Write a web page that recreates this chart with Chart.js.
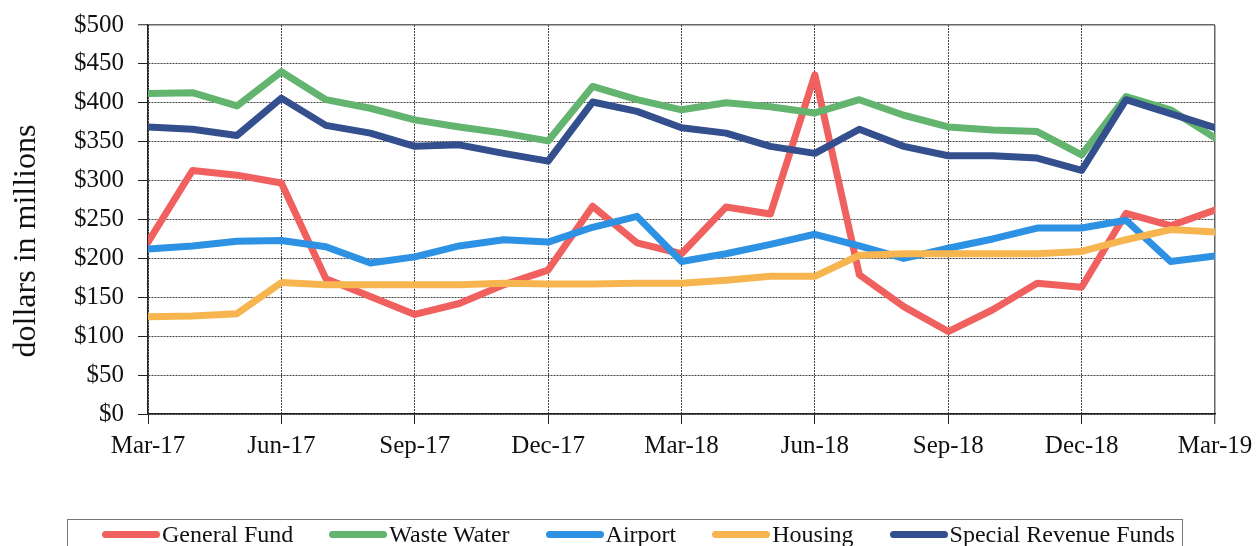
<!DOCTYPE html>
<html>
<head>
<meta charset="utf-8">
<script src="https://cdn.jsdelivr.net/npm/chart.js@4.4.1/dist/chart.umd.min.js"></script>
<style>
  html, body { margin: 0; padding: 0; background: #fff; overflow: hidden; }
  #wrap { position: relative; width: 1256px; height: 546px; }
  #legend {
    position: absolute; left: 67px; top: 519px; width: 1116px; height: 40px;
    border: 1px solid #777; box-sizing: border-box;
    font-family: "Liberation Serif", "DejaVu Serif", serif; font-size: 24px; color: #111;
    display: flex; align-items: flex-start; padding-left: 34px; gap: 36px; padding-top: 0;
  }
  #legend .item { display: flex; align-items: center; white-space: nowrap; height: 28px; line-height: 28px; }
  #legend .mark { display: inline-block; width: 58px; height: 7px; border-radius: 4px; margin-right: 2px; }
</style>
</head>
<body>
<div id="wrap">
  <canvas id="c" width="1256" height="546"></canvas>
  <div id="legend"></div>
</div>
<script>
// Months (x positions 0..24), Mar-17 .. Mar-19
const months = ['Mar-17','Apr-17','May-17','Jun-17','Jul-17','Aug-17','Sep-17','Oct-17','Nov-17','Dec-17','Jan-18','Feb-18','Mar-18','Apr-18','May-18','Jun-18','Jul-18','Aug-18','Sep-18','Oct-18','Nov-18','Dec-18','Jan-19','Feb-19','Mar-19'];
const tickLabels = ['Mar-17','Jun-17','Sep-17','Dec-17','Mar-18','Jun-18','Sep-18','Dec-18','Mar-19'];
const yTicks = [0, 50, 100, 150, 200, 250, 300, 350, 400, 450, 500];
const yTitle = 'dollars in millions';

const seriesNames = ['General Fund', 'Waste Water', 'Airport', 'Housing', 'Special Revenue Funds'];
const generalFund = [221, 313, 307, 297, 174, 151, 128, 142, 166, 185, 267, 220, 206, 266, 257, 436, 179, 138, 106, 134, 168, 163, 258, 242, 262];
const wasteWater  = [412, 413, 396, 440, 404, 393, 378, 369, 361, 351, 421, 404, 391, 400, 395, 387, 404, 384, 369, 365, 363, 333, 408, 391, 355];
const airport     = [212, 216, 222, 223, 215, 194, 202, 216, 224, 221, 240, 254, 196, 206, 218, 231, 216, 200, 213, 225, 239, 239, 249, 196, 203];
const housing     = [125, 126, 129, 169, 166, 166, 166, 166, 168, 167, 167, 168, 168, 172, 177, 177, 204, 206, 206, 206, 206, 209, 224, 237, 234];
const specialRev  = [369, 366, 358, 406, 371, 361, 344, 346, 335, 325, 401, 389, 368, 361, 344, 335, 366, 344, 332, 332, 329, 313, 404, 386, 368];

const colors = ['#F0605E', '#62B46F', '#2E92E4', '#F7B54F', '#344F8E'];
const drawOrder = [5, 4, 3, 2, 1];
const allSeries = [generalFund, wasteWater, airport, housing, specialRev];

const serif = '"Liberation Serif", "DejaVu Serif", serif';

const datasets = allSeries.map((vals, k) => ({
  label: seriesNames[k],
  data: vals.map((v, i) => ({ x: i, y: v })),
  borderColor: colors[k],
  backgroundColor: colors[k],
  borderWidth: 7,
  pointRadius: 0,
  tension: 0,
  fill: false,
  borderJoinStyle: 'round',
  borderCapStyle: 'round',
  order: drawOrder[k]
}));

// y-axis title drawn slightly below centre, as in the original
const yTitlePlugin = {
  id: 'yTitle',
  afterDraw(chart) {
    const ctx = chart.ctx;
    ctx.save();
    ctx.translate(27, 241);
    ctx.rotate(-Math.PI / 2);
    ctx.font = '32px ' + serif;
    ctx.fillStyle = '#111';
    ctx.textAlign = 'center';
    ctx.textBaseline = 'middle';
    ctx.fillText(yTitle, 0, 0);
    ctx.restore();
  }
};

const chart = new Chart(document.getElementById('c'), {
  type: 'line',
  data: { datasets },
  plugins: [yTitlePlugin],
  options: {
    responsive: false,
    animation: false,
    devicePixelRatio: 1,
    layout: { padding: { top: 25, right: 41, left: 0, bottom: 0 } },
    plugins: { legend: { display: false }, tooltip: { enabled: false } },
    scales: {
      x: {
        type: 'linear',
        min: 0, max: months.length - 1,
        afterBuildTicks: (s) => { s.ticks = tickLabels.map((_, j) => ({ value: j * 3 })); },
        afterFit: (s) => { s.height = 132; s.paddingLeft = 0; s.paddingRight = 0; },
        ticks: {
          callback: (v) => tickLabels[Math.round(v / 3)],
          font: { family: serif, size: 25 },
          color: '#111',
          padding: 7,
          maxRotation: 0,
          autoSkip: false
        },
        grid: {
          color: (ctx) => ctx.tick && ctx.tick.value === months.length - 1 ? '#666' : '#444',
          lineWidth: (ctx) => ctx.tick && ctx.tick.value === months.length - 1 ? 1.5 : 1,
          tickLength: 10,
          tickColor: '#222',
          tickWidth: 1,
          tickBorderDash: []
        },
        border: {
          display: true, color: '#222', width: 1.5,
          dash: (ctx) => ctx.tick && ctx.tick.value === months.length - 1 ? [] : [2, 1]
        }
      },
      y: {
        min: 0, max: 500,
        afterBuildTicks: (s) => { s.ticks = yTicks.map(v => ({ value: v })); },
        afterFit: (s) => { s.width = 148; s.paddingTop = 0; s.paddingBottom = 0; },
        ticks: {
          callback: (v) => '$' + v,
          font: { family: serif, size: 25 },
          color: '#111',
          padding: 14
        },
        grid: {
          color: (ctx) => ctx.tick && ctx.tick.value === 500 ? '#666' : '#444',
          lineWidth: (ctx) => ctx.tick && ctx.tick.value === 500 ? 1.5 : 1,
          tickLength: 10,
          tickColor: '#222',
          tickWidth: 1,
          tickBorderDash: []
        },
        border: {
          display: true, color: '#222', width: 1.5,
          dash: (ctx) => ctx.tick && ctx.tick.value === 500 ? [] : [2, 1]
        },
        title: { display: false }
      }
    }
  }
});

// HTML legend built from the chart's datasets
const legendEl = document.getElementById('legend');
chart.data.datasets.forEach(ds => {
  const item = document.createElement('div');
  item.className = 'item';
  const mark = document.createElement('span');
  mark.className = 'mark';
  mark.style.background = ds.borderColor;
  const txt = document.createElement('span');
  txt.textContent = ds.label;
  item.appendChild(mark);
  item.appendChild(txt);
  legendEl.appendChild(item);
});
</script>
</body>
</html>
